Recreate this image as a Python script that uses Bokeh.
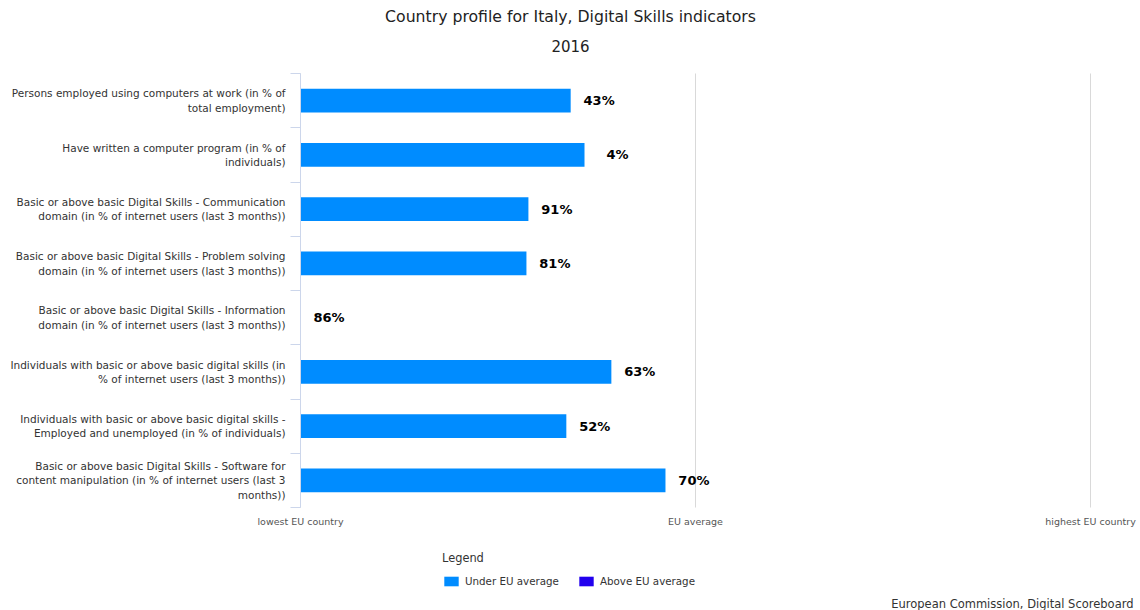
import math
from bokeh.plotting import figure
from bokeh.models import (ColumnDataSource, Range1d, FixedTicker, LabelSet, LinearAxis,
                          Legend, LegendItem, Label)
from bokeh.core.properties import value
from bokeh.embed import file_html
from bokeh.resources import INLINE

# ---------------- data ----------------
categories = [
    "Persons employed using computers at work (in % of\ntotal employment)",
    "Have written a computer program (in % of\nindividuals)",
    "Basic or above basic Digital Skills - Communication\ndomain (in % of internet users (last 3 months))",
    "Basic or above basic Digital Skills - Problem solving\ndomain (in % of internet users (last 3 months))",
    "Basic or above basic Digital Skills - Information\ndomain (in % of internet users (last 3 months))",
    "Individuals with basic or above basic digital skills (in\n% of internet users (last 3 months))",
    "Individuals with basic or above basic digital skills -\nEmployed and unemployed (in % of individuals)",
    "Basic or above basic Digital Skills - Software for\ncontent manipulation (in % of internet users (last 3\nmonths))",
]
# position on scale: 0 = lowest EU country, 1 = EU average, 2 = highest EU country
scores = [0.684, 0.719, 0.577, 0.572, 0.0, 0.787, 0.673, 0.924]
value_labels = ["43%", "4%", "91%", "81%", "86%", "63%", "52%", "70%"]
scale_ticks = [0, 1, 2]
scale_labels = ["lowest EU country", "EU average", "highest EU country"]
series_names = ["Under EU average", "Above EU average"]

title_text = "Country profile for Italy, Digital Skills indicators"
subtitle_text = "2016"
credit_text = "European Commission, Digital Scoreboard"

# ---------------- styling ----------------
UNDER = "#008cff"
ABOVE = "#2200ee"
FONT = "DejaVu Sans"
W, H = 1140, 610
LEFT = 300            # px from canvas left to the "lowest EU country" line
ROW = 54.25           # px per category row
TOP_PAD = 73          # px above first row
BOT_PAD = 103         # px below last row
UNIT = 395            # px per scale unit

n = len(categories)
ypos = [i + 0.5 for i in range(n)]
nan = float("nan")

src = ColumnDataSource(dict(
    y=ypos,
    under=[v if v < 1 else nan for v in scores],
    above=[v if v >= 1 else nan for v in scores],
    v=scores,
    t=value_labels,
))
src_grid = ColumnDataSource(dict(x=scale_ticks, y0=[0] * len(scale_ticks),
                                 y1=[n] * len(scale_ticks)))

p = figure(width=W, height=H, output_backend="svg", toolbar_location=None,
           title=None,
           x_range=Range1d(-LEFT / UNIT, (W - LEFT) / UNIT),
           y_range=Range1d(n + BOT_PAD / ROW, -TOP_PAD / ROW),
           min_border=0)
p.outline_line_color = None
p.background_fill_color = "white"
p.border_fill_color = "white"
p.xgrid.visible = False
p.ygrid.visible = False

# vertical grid lines at scale ticks, spanning the category rows
p.segment(x0="x", y0="y0", x1="x", y1="y1", source=src_grid,
          line_color="#d9d9d9", line_width=1)

r_under = p.hbar(y="y", left=0, right="under", height=0.44, source=src,
                 fill_color=UNDER, line_color=None)
r_above = p.hbar(y="y", left=0, right="above", height=0.44, source=src,
                 fill_color=ABOVE, line_color=None)

# value labels (right-aligned a fixed distance after bar end)
p.add_layout(LabelSet(x="v", y="y", text="t", source=src, x_offset=44,
                      text_baseline="middle", text_align="right",
                      text_font=value(FONT), text_font_style="bold",
                      text_font_size="13px", text_color="#000000"))

# x axis (scale) drawn at the bottom of the category rows
xa = p.xaxis[0]
xa.fixed_location = n
xa.ticker = FixedTicker(ticks=scale_ticks)
xa.major_label_overrides = {t: l for t, l in zip(scale_ticks, scale_labels)}
xa.axis_line_color = None
xa.major_tick_line_color = None
xa.minor_tick_line_color = None
xa.major_tick_out = 0
xa.major_tick_in = 0
xa.major_label_standoff = 8
xa.major_label_text_font = FONT
xa.major_label_text_font_size = "9.5px"
xa.major_label_text_color = "#555555"

# y axis: tick marks at category boundaries, drawn at scale 0
ya = p.yaxis[0]
ya.fixed_location = 0
ya.ticker = FixedTicker(ticks=list(range(n + 1)))
ya.bounds = (0, n)
ya.major_label_overrides = {i: "" for i in range(n + 1)}
ya.major_label_standoff = 0
ya.axis_line_color = "#ccd6eb"
ya.major_tick_line_color = "#ccd6eb"
ya.major_tick_out = 10
ya.major_tick_in = 0
ya.minor_tick_line_color = None

# y axis: category labels at category centres
cat_axis = LinearAxis(ticker=FixedTicker(ticks=ypos), bounds=(0, n), fixed_location=0,
                      major_label_overrides={y: c for y, c in zip(ypos, categories)},
                      axis_line_color=None, major_tick_line_color=None,
                      minor_tick_line_color=None, major_tick_out=0, major_tick_in=0,
                      major_label_standoff=15, major_label_text_font=FONT,
                      major_label_text_font_size="10.5px",
                      major_label_text_line_height=1.2,
                      major_label_text_color="#333333")
p.add_layout(cat_axis, "left")

# titles and credit (screen units: x from left, y up from bottom)
p.add_layout(Label(x=570, y=H - 16, x_units="screen", y_units="screen",
                   text=title_text, text_align="center", text_baseline="middle",
                   text_font=FONT, text_font_size="15.7px", text_color="#222222"))
p.add_layout(Label(x=570, y=H - 45, x_units="screen", y_units="screen",
                   text=subtitle_text, text_align="center", text_baseline="middle",
                   text_font=FONT, text_font_size="15px", text_color="#222222"))
p.add_layout(Label(x=1133, y=H - 603, x_units="screen", y_units="screen",
                   text=credit_text, text_align="right", text_baseline="middle",
                   text_font=FONT, text_font_size="11.5px", text_color="#333333"))

legend = Legend(items=[LegendItem(label=series_names[0], renderers=[r_under]),
                       LegendItem(label=series_names[1], renderers=[r_above])],
                orientation="horizontal", location=(442, 23), title="Legend",
                title_text_font=FONT, title_text_font_size="11.4px",
                title_text_font_style="normal",
                title_text_color="#333333", title_standoff=10,
                label_text_font=FONT, label_text_font_size="10.3px",
                label_text_color="#333333", glyph_width=18, glyph_height=12,
                label_standoff=5, spacing=18, padding=0, margin=0,
                border_line_color=None, background_fill_alpha=0)
p.add_layout(legend)

open("out.html", "w").write(file_html(p, INLINE))
